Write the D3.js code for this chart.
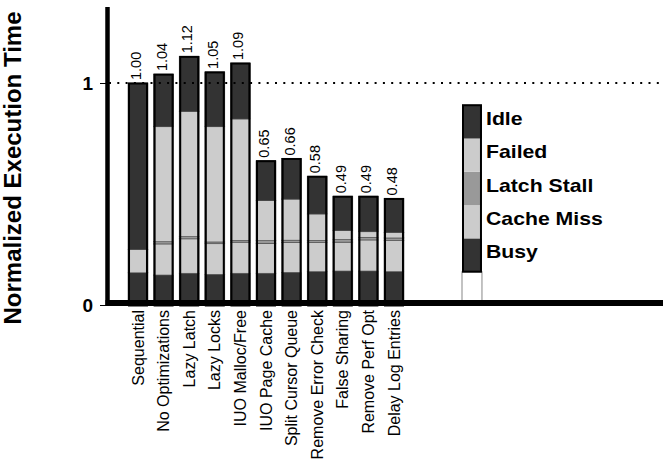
<!DOCTYPE html>
<html>
<head>
<meta charset="utf-8">
<script src="https://cdn.jsdelivr.net/npm/d3@7/dist/d3.min.js"></script>
<style>
  html, body { margin: 0; padding: 0; background: #fff; }
  svg { display: block; font-family: "Liberation Sans", Arial, Helvetica, sans-serif; }
</style>
</head>
<body>
<svg id="chart" width="663" height="461"></svg>
<script>
// ---- data ----
const categories = ["Sequential", "No Optimizations", "Lazy Latch", "Lazy Locks", "IUO Malloc/Free",
  "IUO Page Cache", "Split Cursor Queue", "Remove Error Check", "False Sharing", "Remove Perf Opt", "Delay Log Entries"];
const busy       = [0.145, 0.135, 0.143, 0.138, 0.143, 0.143, 0.147, 0.150, 0.153, 0.153, 0.150];
const cacheMiss  = [0.105, 0.140, 0.155, 0.138, 0.140, 0.135, 0.135, 0.131, 0.130, 0.140, 0.140];
const latchStall = [0.000, 0.010, 0.010, 0.008, 0.008, 0.012, 0.010, 0.010, 0.012, 0.012, 0.012];
const failed     = [0.000, 0.518, 0.564, 0.519, 0.547, 0.180, 0.185, 0.119, 0.040, 0.025, 0.025];
const idle       = [0.750, 0.237, 0.248, 0.247, 0.252, 0.180, 0.183, 0.170, 0.155, 0.160, 0.153];
const totals     = [1.00, 1.04, 1.12, 1.05, 1.09, 0.65, 0.66, 0.58, 0.49, 0.49, 0.48];
const seriesNames = ["Busy", "Cache Miss", "Latch Stall", "Failed", "Idle"];
const yTickValues = [0, 1];
const yTitle = "Normalized Execution Time";

// ---- styles ----
const colors = { "Busy": "#333333", "Cache Miss": "#cccccc", "Latch Stall": "#999999", "Failed": "#cccccc", "Idle": "#333333" };
const font = "\"Liberation Sans\", Arial, Helvetica, sans-serif";

const svg = d3.select("#chart");

const rows = categories.map((c, i) => ({
  cat: c, "Busy": busy[i], "Cache Miss": cacheMiss[i], "Latch Stall": latchStall[i],
  "Failed": failed[i], "Idle": idle[i], total: totals[i]
}));

const y = d3.scaleLinear().domain([0, 1]).range([305, 83]);
const x = d3.scaleBand().domain(categories).range([125.2, 406.8]).paddingInner(0.22).paddingOuter(0.11);
const bw = x.bandwidth();

const stack = d3.stack().keys(seriesNames);
const layers = stack(rows);

// bars
const gBars = svg.append("g");
layers.forEach(layer => {
  gBars.selectAll(null).data(layer).enter().append("rect")
    .attr("x", d => x(d.data.cat))
    .attr("y", d => y(d[1]))
    .attr("width", bw)
    .attr("height", d => Math.max(0, y(d[0]) - y(d[1])))
    .attr("fill", colors[layer.key])
    .attr("stroke", "#444")
    .attr("stroke-width", d => (d[1] - d[0]) > 0 ? 0.6 : 0);
});
// bar outlines
gBars.selectAll(null).data(rows).enter().append("rect")
  .attr("x", d => x(d.cat) + 1)
  .attr("y", d => y(d.total) + 0.5)
  .attr("width", bw - 2)
  .attr("height", d => y(0) - y(d.total))
  .attr("fill", "none")
  .attr("stroke", "#000")
  .attr("stroke-width", 2);

// value labels
svg.append("g").selectAll("text").data(rows).enter().append("text")
  .attr("transform", d => `translate(${x(d.cat) + bw / 2 - 2},${y(d.total) - 3}) rotate(-90)`)
  .attr("dy", "0.35em")
  .attr("text-anchor", "start")
  .style("font-family", font)
  .style("font-size", "14.5px")
  .attr("fill", "#000")
  .text(d => d.total.toFixed(2));

// dotted reference line at 1
svg.append("line")
  .attr("x1", 109).attr("x2", 663)
  .attr("y1", y(1)).attr("y2", y(1))
  .attr("stroke", "#000").attr("stroke-width", 1.8)
  .attr("stroke-dasharray", "2,6.3");

// legend as a stacked column
const legendX = 462;
const legendStep = 0.15;
const gLeg = svg.append("g");
gLeg.append("rect")
  .attr("x", legendX).attr("y", y(legendStep))
  .attr("width", bw).attr("height", y(0) - y(legendStep))
  .attr("fill", "#fff").attr("stroke", "#888").attr("stroke-width", 1);
seriesNames.forEach((name, i) => {
  const lo = legendStep * (i + 1), hi = legendStep * (i + 2);
  gLeg.append("rect")
    .attr("x", legendX).attr("y", y(hi))
    .attr("width", bw).attr("height", y(lo) - y(hi))
    .attr("fill", colors[name]);
  gLeg.append("text")
    .attr("transform", `translate(${legendX + 24},${(y(lo) + y(hi)) / 2}) scale(1.18,1)`)
    .attr("dy", "0.18em")
    .style("font-family", font)
    .style("font-size", "18px")
    .style("font-weight", "bold")
    .text(name);
});
gLeg.append("rect")
  .attr("x", legendX + 1).attr("y", y(legendStep * (seriesNames.length + 1)))
  .attr("width", bw - 2)
  .attr("height", y(legendStep) - y(legendStep * (seriesNames.length + 1)))
  .attr("fill", "none").attr("stroke", "#000").attr("stroke-width", 2);

// y axis
const yAxis = d3.axisLeft(y).tickValues(yTickValues).tickFormat(d3.format("d")).tickSize(7).tickPadding(7);
const gy = svg.append("g").attr("transform", "translate(107,0)").call(yAxis);
gy.select(".domain").remove();
gy.selectAll(".tick line").attr("stroke", "#000").attr("stroke-width", 1);
gy.selectAll(".tick text")
  .style("font-family", font).style("font-size", "19px").style("font-weight", "bold").attr("fill", "#000");
svg.append("line").attr("x1", 107.5).attr("x2", 107.5).attr("y1", 7).attr("y2", 306)
  .attr("stroke", "#000").attr("stroke-width", 4.5);

// x axis
const xAxis = d3.axisBottom(x).tickSize(0);
const gx = svg.append("g").attr("transform", "translate(0,303)").call(xAxis);
gx.select(".domain").remove();
gx.selectAll(".tick text")
  .attr("transform", "rotate(-90)")
  .attr("x", -7).attr("y", 0).attr("dy", "0.35em")
  .attr("text-anchor", "end")
  .style("font-family", font).style("font-size", "16px").attr("fill", "#000");
svg.append("line").attr("x1", 105.5).attr("x2", 663).attr("y1", 303).attr("y2", 303)
  .attr("stroke", "#000").attr("stroke-width", 6);

// y title
svg.append("text")
  .attr("transform", "translate(21,168) rotate(-90)")
  .attr("text-anchor", "middle")
  .style("font-family", font).style("font-size", "24px").style("font-weight", "bold")
  .text(yTitle);
</script>
</body>
</html>
